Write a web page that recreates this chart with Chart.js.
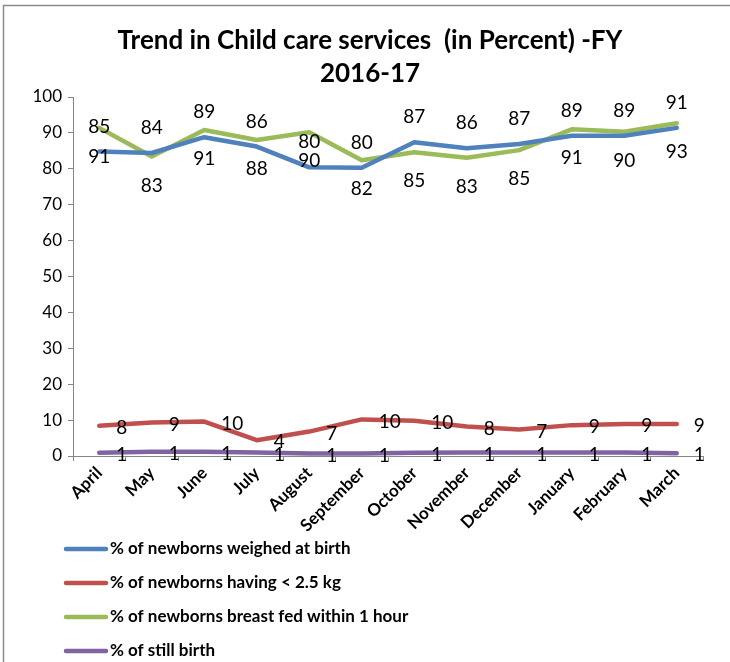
<!DOCTYPE html>
<html>
<head>
<meta charset="utf-8">
<script src="https://cdn.jsdelivr.net/npm/chart.js@4"></script>
<style>
  html, body { margin: 0; padding: 0; background: #fff; }
  #wrap { position: relative; width: 730px; height: 662px; }
</style>
</head>
<body>
<div id="wrap"><canvas id="trendChart" width="730" height="662"></canvas></div>
<script>
const months = ["April", "May", "June", "July", "August", "September",
                "October", "November", "December", "January", "February", "March"];

const weighedAtBirth = [84.8, 84.4, 88.8, 86.2, 80.4, 80.3, 87.4, 85.7, 86.9, 89.2, 89.2, 91.4];
const lowBirthWeight = [8.4, 9.3, 9.6, 4.4, 6.8, 10.2, 9.8, 8.2, 7.4, 8.6, 8.9, 8.9];
const breastFed1Hour = [91.4, 83.4, 90.8, 88.0, 90.2, 82.4, 84.6, 83.1, 85.2, 91.0, 90.3, 92.7];
const stillBirth = [0.9, 1.2, 1.2, 1.0, 0.7, 0.7, 0.9, 1.0, 1.0, 1.0, 1.0, 0.8];

const seriesNames = [
    "% of newborns weighed at birth",
    "% of newborns having < 2.5 kg",
    "% of newborns breast fed within 1 hour",
    "% of still birth"
];

const titleLines = ["Trend in Child care services  (in Percent) -FY", "2016-17"];

const FONT = "Lato, 'Open Sans', sans-serif";
const AXIS_GREY = "#868686";

function lineSet(label, data, color) {
    return {
        label: label,
        data: data,
        borderColor: color,
        backgroundColor: color,
        borderWidth: 4.5,
        pointRadius: 0,
        tension: 0,
        borderJoinStyle: "round",
        borderCapStyle: "round",
        fill: false
    };
}

// title + frame, drawn by hand so the spacing matches the excel look
const frameAndTitle = {
    id: "frameAndTitle",
    beforeDraw(chart) {
        const ctx = chart.ctx;
        ctx.save();
        ctx.fillStyle = "#fff";
        ctx.fillRect(0, 0, chart.width, chart.height);
        ctx.strokeStyle = "#8c8c8c";
        ctx.lineWidth = 1.5;
        ctx.beginPath();
        ctx.moveTo(3.5, chart.height);
        ctx.lineTo(3.5, 5.5);
        ctx.lineTo(chart.width, 5.5);
        ctx.stroke();

        ctx.fillStyle = "#000";
        ctx.font = "bold 26px " + FONT;
        ctx.textAlign = "center";
        ctx.textBaseline = "middle";
        ctx.fillText(titleLines[0], 370, 41);
        ctx.fillText(titleLines[1], 370, 74);
        ctx.restore();
    }
};

// value labels: blue above, green below, red / purple to the right
const valueLabels = {
    id: "valueLabels",
    afterDatasetsDraw(chart) {
        const ctx = chart.ctx;
        ctx.save();
        ctx.fillStyle = "#000";
        ctx.font = "19px " + FONT;
        chart.data.datasets.forEach(function (ds, di) {
            const meta = chart.getDatasetMeta(di);
            meta.data.forEach(function (pt, i) {
                const txt = String(Math.round(ds.data[i]));
                if (di === 0) {
                    ctx.textAlign = "center"; ctx.textBaseline = "middle";
                    ctx.fillText(txt, pt.x, pt.y - 25);
                } else if (di === 2) {
                    ctx.textAlign = "center"; ctx.textBaseline = "middle";
                    ctx.fillText(txt, pt.x, pt.y + 29);
                } else {
                    ctx.textAlign = "left"; ctx.textBaseline = "middle";
                    ctx.fillText(txt, pt.x + 17, pt.y + 2);
                }
            });
        });
        ctx.restore();
    }
};

// vertical legend under the axis labels
const stackedLegend = {
    id: "stackedLegend",
    afterDraw(chart) {
        const ctx = chart.ctx;
        ctx.save();
        ctx.font = "bold 17px " + FONT;
        ctx.textAlign = "left";
        ctx.textBaseline = "middle";
        chart.data.datasets.forEach(function (ds, i) {
            const y = 549 + i * 34;
            ctx.strokeStyle = ds.borderColor;
            ctx.lineWidth = 4.5;
            ctx.lineCap = "round";
            ctx.beginPath();
            ctx.moveTo(66, y);
            ctx.lineTo(106, y);
            ctx.stroke();
            ctx.fillStyle = "#000";
            ctx.fillText(ds.label, 110, y);
        });
        ctx.restore();
    }
};

new Chart(document.getElementById("trendChart"), {
    type: "line",
    data: {
        labels: months,
        datasets: [
            lineSet(seriesNames[0], weighedAtBirth, "#4F81BD"),
            lineSet(seriesNames[1], lowBirthWeight, "#C0504D"),
            lineSet(seriesNames[2], breastFed1Hour, "#9BBB59"),
            lineSet(seriesNames[3], stillBirth, "#8064A2")
        ]
    },
    options: {
        responsive: false,
        animation: false,
        devicePixelRatio: 1,
        layout: { padding: { top: 97, left: 8, right: 27, bottom: 126 } },
        plugins: {
            legend: { display: false },
            title: { display: false },
            tooltip: { enabled: false }
        },
        scales: {
            x: {
                offset: true,
                afterFit: function (s) { s.height = 80; },
                grid: { offset: true, drawOnChartArea: false, tickLength: 5, color: AXIS_GREY },
                border: { color: AXIS_GREY, width: 1 },
                ticks: {
                    color: "#000",
                    font: { family: FONT, size: 17, weight: "bold" },
                    minRotation: 45,
                    maxRotation: 45,
                    autoSkip: false,
                    padding: 2
                }
            },
            y: {
                min: 0,
                max: 100,
                afterFit: function (s) { s.width = 65; },
                grid: { drawOnChartArea: false, tickLength: 5, color: AXIS_GREY },
                border: { color: AXIS_GREY, width: 1 },
                ticks: {
                    stepSize: 10,
                    color: "#000",
                    font: { family: FONT, size: 17 },
                    padding: 6
                }
            }
        }
    },
    plugins: [frameAndTitle, valueLabels, stackedLegend]
});
</script>
</body>
</html>
